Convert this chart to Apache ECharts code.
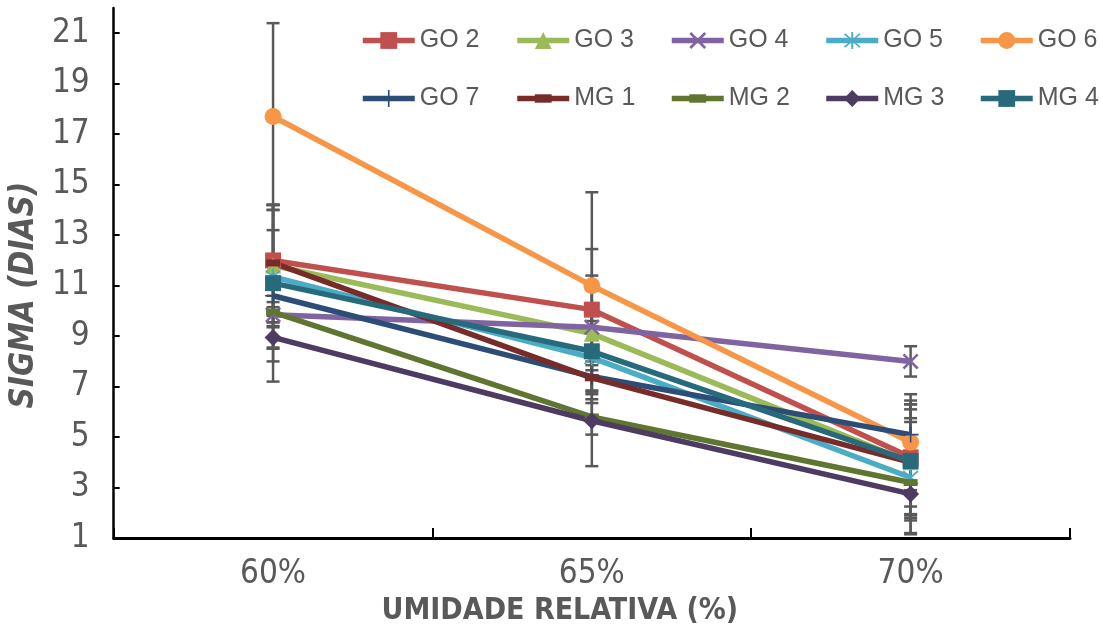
<!DOCTYPE html>
<html>
<head>
<meta charset="utf-8">
<script src="https://cdn.jsdelivr.net/npm/echarts@6/dist/echarts.min.js"></script>
<style>html,body{margin:0;padding:0;background:#fff;}#c{width:1103px;height:631px;}</style>
</head>
<body>
<div id="c"></div>
<script>
const categories = ['60%', '65%', '70%'];
const yTicks = [1, 3, 5, 7, 9, 11, 13, 15, 17, 19, 21];
const seriesNames = ['GO 2', 'GO 3', 'GO 4', 'GO 5', 'GO 6', 'GO 7', 'MG 1', 'MG 2', 'MG 3', 'MG 4'];

const go2 = [12.0, 10.05, 4.2];
const go3 = [11.8, 9.1, 4.0];
const go4 = [9.85, 9.35, 8.0];
const go5 = [11.35, 8.15, 3.4];
const go6 = [17.7, 11.0, 4.8];
const go7 = [10.6, 7.4, 5.1];
const mg1 = [11.9, 7.35, 4.0];
const mg2 = [9.95, 5.8, 3.2];
const mg3 = [8.95, 5.65, 2.75];
const mg4 = [11.1, 8.4, 4.05];

const go2Err = [2.2, 2.4, 2.25];
const go3Err = [2.4, 0.5, 2.1];
const go4Err = [0.3, 2.05, 0.6];
const go5Err = [2.85, 1.8, 2.2];
const go6Err = [3.7, 3.7, 1.9];
const go7Err = [3.4, 0.6, 1.2];
const mg1Err = [1.3, 0.5, 1.75];
const mg2Err = [0.4, 0.7, 1.5];
const mg3Err = [0.4, 1.8, 1.6];
const mg4Err = [3.1, 1.7, 2.25];

const values = [go2, go3, go4, go5, go6, go7, mg1, mg2, mg3, mg4];
const errors = [go2Err, go3Err, go4Err, go5Err, go6Err, go7Err, mg1Err, mg2Err, mg3Err, mg4Err];

const colors = ['#C0504D', '#9BBB59', '#8064A2', '#4BACC6', '#F79646', '#2C4D75', '#772C2A', '#5F7530', '#4D3B62', '#276A7C'];

const X_PATH = 'path://M1,3L3,1L19,17L17,19Z M17,1L19,3L3,19L1,17Z';
const STAR_PATH = 'path://M9,0L11,0L11,20L9,20Z M1.3,2.7L2.7,1.3L18.7,17.3L17.3,18.7Z M17.3,1.3L18.7,2.7L2.7,18.7L1.3,17.3Z';
const PLUS_PATH = 'path://M9,0H11V9H20V11H11V20H9V11H0V9H9Z';
const DASH_PATH = 'path://M0,0M14,14M0,3.5H14V10.5H0Z';
const symbols = ['rect', 'triangle', X_PATH, STAR_PATH, 'circle', PLUS_PATH, DASH_PATH, DASH_PATH, 'diamond', 'rect'];
const symbolSizes = [16, 16, 16, 16, 17, 16, 14, 14, 17, 16];

const FONT = "'Liberation Sans', Arial, sans-serif";
const NARROW = "'Liberation Sans Narrow', 'Arial Narrow', 'DejaVu Sans Condensed', 'Liberation Sans', sans-serif";

const errData = [];
values.forEach((arr, s) => {
  arr.forEach((v, i) => {
    errData.push([i, v - errors[s][i], v + errors[s][i]]);
  });
});

const lineSeries = seriesNames.map((name, s) => ({
  name: name,
  type: 'line',
  data: values[s],
  symbol: symbols[s],
  symbolSize: symbolSizes[s],
  showAllSymbol: true,
  z: 3,
  color: colors[s],
  lineStyle: { color: colors[s], width: 5.5 },
  itemStyle: { color: colors[s] },
  emphasis: { disabled: true },
  animation: false
}));

const errSeries = {
  type: 'custom',
  name: 'err',
  z: 2,
  silent: true,
  animation: false,
  data: errData,
  renderItem: function (params, api) {
    const lo = api.coord([api.value(0), api.value(1)]);
    const hi = api.coord([api.value(0), api.value(2)]);
    const w = 6.5;
    const st = { stroke: '#595959', lineWidth: 2.5 };
    return {
      type: 'group',
      children: [
        { type: 'line', shape: { x1: lo[0], y1: lo[1], x2: hi[0], y2: hi[1] }, style: st },
        { type: 'line', shape: { x1: lo[0] - w, y1: lo[1], x2: lo[0] + w, y2: lo[1] }, style: st },
        { type: 'line', shape: { x1: hi[0] - w, y1: hi[1], x2: hi[0] + w, y2: hi[1] }, style: st }
      ]
    };
  }
};

const legends = seriesNames.map((name, s) => {
  const col = s % 5, row = Math.floor(s / 5);
  return {
    data: [name],
    left: 360 + col * 154.5,
    top: row === 0 ? 28 : 86,
    padding: 0,
    itemWidth: 52,
    itemHeight: 21,
    itemGap: 0,
    selectedMode: false,
    lineStyle: { width: 5.5 },
    textStyle: { fontFamily: FONT, fontSize: 25, color: '#595959' }
  };
});

const chart = echarts.init(document.getElementById('c'), null, { renderer: 'canvas' });
chart.setOption({
  animation: false,
  backgroundColor: '#ffffff',
  grid: { left: 107, right: 33, top: 8, bottom: 90, containLabel: false },
  legend: legends,
  xAxis: {
    type: 'category',
    data: categories,
    boundaryGap: true,
    axisLine: { lineStyle: { color: '#000', width: 3 } },
    axisTick: { show: true, inside: true, length: 10, lineStyle: { color: '#000', width: 2 } },
    axisLabel: { margin: 20, fontFamily: NARROW, fontSize: 33, color: '#595959' },
    name: 'UMIDADE RELATIVA (%)',
    nameLocation: 'middle',
    nameGap: 56,
    nameTextStyle: { fontFamily: NARROW, fontSize: 30, fontWeight: 'bold', color: '#595959', padding: [0, 64, 0, 0] },
    splitLine: { show: false }
  },
  yAxis: {
    type: 'value',
    min: 1,
    max: 22,
    interval: 2,
    axisLine: { show: true, lineStyle: { color: '#000', width: 2.5 } },
    axisTick: { show: true, inside: true, length: 6, lineStyle: { color: '#000', width: 2 }, customValues: yTicks },
    axisLabel: { margin: 24, fontFamily: NARROW, fontSize: 33, color: '#595959', customValues: yTicks },
    splitLine: { show: false },
    name: 'SIGMA (DIAS)',
    nameLocation: 'middle',
    nameGap: 58,
    nameRotate: 90,
    nameTextStyle: { fontFamily: NARROW, fontSize: 33, fontWeight: 'bold', fontStyle: 'italic', color: '#595959', padding: [0, 44, 0, 0] }
  },
  series: [errSeries].concat(lineSeries)
});
</script>
</body>
</html>
